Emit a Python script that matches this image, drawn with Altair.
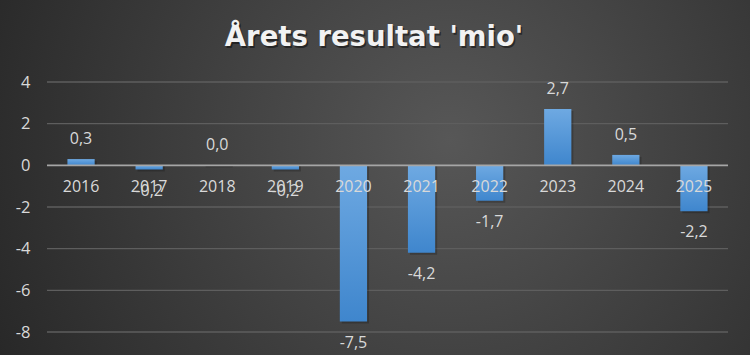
import altair as alt
import pandas as pd

years = ["2016", "2017", "2018", "2019", "2020", "2021", "2022", "2023", "2024", "2025"]
values = [0.3, -0.2, 0.0, -0.2, -7.5, -4.2, -1.7, 2.7, 0.5, -2.2]
y_ticks = [-8, -6, -4, -2, 0, 2, 4]
title_text = "Årets resultat 'mio'"

df = pd.DataFrame({"year": years, "value": values})
df["zero"] = 0.0

W, H = 681, 250
PAD = {"left": 47, "top": 82, "right": 22, "bottom": 23}

yscale = alt.Scale(domain=[-8, 4], nice=False, zero=False)
xscale = alt.Scale(paddingInner=0.6, paddingOuter=0.3)

bg = alt.Chart(alt.Data(values=[{}])).mark_rect(
    fill={
        "gradient": "radial",
        "x1": 0.6, "y1": 0.45, "r1": 0.0,
        "x2": 0.6, "y2": 0.45, "r2": 0.75,
        "stops": [
            {"offset": 0.0, "color": "#575757"},
            {"offset": 1.0, "color": "#222222"},
        ],
    }
).encode(
    x=alt.value(-PAD["left"]), x2=alt.value(W + PAD["right"]),
    y=alt.value(-PAD["top"]), y2=alt.value(H + PAD["bottom"]),
)

TITLE_FONT = dict(font="DejaVu Sans", fontSize=27.5, fontWeight="bold",
                  baseline="alphabetic", align="center")

title_shadow = alt.Chart(alt.Data(values=[{}])).mark_text(
    text=title_text, color="#000000", opacity=0.45, dx=1.5, dy=1.5, **TITLE_FONT
).encode(x=alt.value(327), y=alt.value(-36))

title = alt.Chart(alt.Data(values=[{}])).mark_text(
    text=title_text, color="#f2f2f2", **TITLE_FONT
).encode(x=alt.value(327), y=alt.value(-36))

grid = alt.Chart(pd.DataFrame({"t": [t for t in y_ticks if t != 0]})).mark_rule(
    color="#5e5e5e", strokeWidth=1.3
).encode(
    y=alt.Y("t:Q", scale=yscale, axis=alt.Axis(
        values=y_ticks, title=None, grid=False, domain=False, ticks=False,
        labelColor="#d9d9d9", labelFont="Open Sans", labelFontSize=16.5,
        labelPadding=17, labelExpr="replace(datum.label, '\u2212', '-')",
        zindex=1,
    ))
)

base = alt.Chart(df).transform_calculate(
    lab="replace(replace(format(datum.value, '.1f'), '.', ','), '\u2212', '-')"
)

shadow = base.mark_bar(color="#000000", opacity=0.2, xOffset=2, yOffset=2).encode(
    x=alt.X("year:N", scale=xscale, axis=None),
    y=alt.Y("value:Q", scale=yscale),
    y2="zero:Q",
)

bars = base.mark_bar(
    fill={
        "gradient": "linear", "x1": 0, "y1": 0, "x2": 0, "y2": 1,
        "stops": [
            {"offset": 0.0, "color": "#6ea9e2"},
            {"offset": 1.0, "color": "#3f86cd"},
        ],
    }
).encode(
    x=alt.X("year:N", scale=xscale, axis=None),
    y=alt.Y("value:Q", scale=yscale),
    y2="zero:Q",
)

zero_line = alt.Chart(pd.DataFrame({"t": [0]})).mark_rule(
    color="#a6a6a6", strokeWidth=1.8
).encode(y=alt.Y("t:Q", scale=yscale))

year_labels = base.mark_text(
    color="#d9d9d9", font="Open Sans", fontSize=16, baseline="middle", dy=22
).encode(
    x=alt.X("year:N", scale=xscale, axis=None),
    y=alt.Y("zero:Q", scale=yscale),
    text="year:N",
)

pos_labels = base.transform_filter("datum.value >= 0").mark_text(
    color="#d9d9d9", font="Open Sans", fontSize=16, baseline="middle", dy=-20
).encode(
    x=alt.X("year:N", scale=xscale, axis=None),
    y=alt.Y("value:Q", scale=yscale),
    text="lab:N",
)

neg_labels = base.transform_filter("datum.value < 0").mark_text(
    color="#d9d9d9", font="Open Sans", fontSize=16, baseline="middle", dy=21
).encode(
    x=alt.X("year:N", scale=xscale, axis=None),
    y=alt.Y("value:Q", scale=yscale),
    text="lab:N",
)

chart = alt.layer(
    bg, title_shadow, title, grid, shadow, bars, zero_line,
    year_labels, pos_labels, neg_labels
).properties(
    width=W, height=H,
    padding=PAD,
    autosize=alt.AutoSizeParams(type="none"),
    background="#2e2e2e",
).configure_view(stroke=None)

chart.save("out.html", embed_options={"renderer": "svg", "actions": False})
